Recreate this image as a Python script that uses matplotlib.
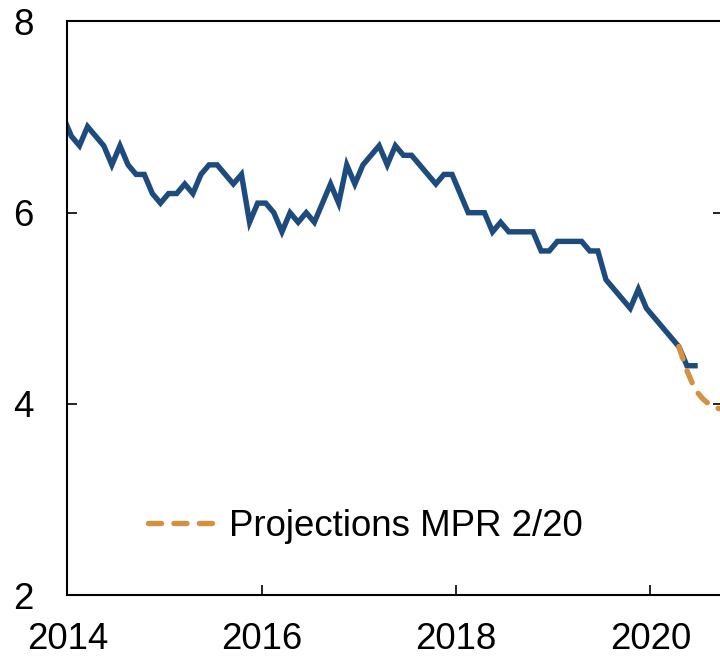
import numpy as np
import pandas as pd
import matplotlib
matplotlib.use("Agg")
import matplotlib.pyplot as plt

plt.rcParams['font.family'] = ['Liberation Sans', 'DejaVu Sans']
plt.rcParams['font.size'] = 26.4

# monthly series, Dec 2013 - Jun 2020
actual_start = '2013-12'
actual = [7.0,
          6.8, 6.7, 6.9, 6.8, 6.7, 6.5, 6.7, 6.5, 6.4, 6.4, 6.2, 6.1,
          6.2, 6.2, 6.3, 6.2, 6.4, 6.5, 6.5, 6.4, 6.3, 6.4, 5.9, 6.1,
          6.1, 6.0, 5.8, 6.0, 5.9, 6.0, 5.9, 6.1, 6.3, 6.1, 6.5, 6.3,
          6.5, 6.6, 6.7, 6.5, 6.7, 6.6, 6.6, 6.5, 6.4, 6.3, 6.4, 6.4,
          6.2, 6.0, 6.0, 6.0, 5.8, 5.9, 5.8, 5.8, 5.8, 5.8, 5.6, 5.6,
          5.7, 5.7, 5.7, 5.7, 5.6, 5.6, 5.3, 5.2, 5.1, 5.0, 5.2, 5.0,
          4.9, 4.8, 4.7, 4.6, 4.4, 4.4]

# projections, Apr 2020 - Sep 2020
proj_start = '2020-04'
proj = [4.6, 4.35, 4.15, 4.05, 3.98, 3.95]
proj_label = 'Projections MPR 2/20'

xticks = [2014, 2016, 2018, 2020]
yticks = [2, 4, 6, 8]

blue = '#1E4B7E'
orange = '#D5913F'


def to_year(start, n):
    p = pd.period_range(start, periods=n, freq='M')
    return p.year + (p.month - 0.5) / 12


x_act = to_year(actual_start, len(actual))
x_proj = to_year(proj_start, len(proj))

fig = plt.figure(figsize=(7.2, 6.58), dpi=100)
ax = fig.add_axes([0.0935, 0.0953, 0.9112, 0.8722])

ax.plot(x_act, actual, color=blue, lw=3.9, solid_joinstyle='miter')
ax.plot(x_proj, proj, color=orange, lw=3.9, linestyle=(0, (2.4, 2.3)),
        dash_capstyle='round', label=proj_label)

ax.set_xlim(2014, 2020.75)
ax.set_ylim(2, 8)
ax.set_xticks(xticks)
ax.set_yticks(yticks)

for s in ['left', 'top', 'bottom']:
    ax.spines[s].set_linewidth(1.5)
ax.spines['right'].set_visible(False)

ax.tick_params(axis='both', direction='in', length=7.5, width=1.2)
ax.tick_params(axis='x', pad=19)
ax.tick_params(axis='y', right=True, pad=24)

leg = ax.legend(loc='center left', bbox_to_anchor=(0.1234, 0.12), frameon=False,
                handlelength=1.8, handletextpad=0.4, borderpad=0, borderaxespad=0)

fig.savefig('out.png', dpi=100)
